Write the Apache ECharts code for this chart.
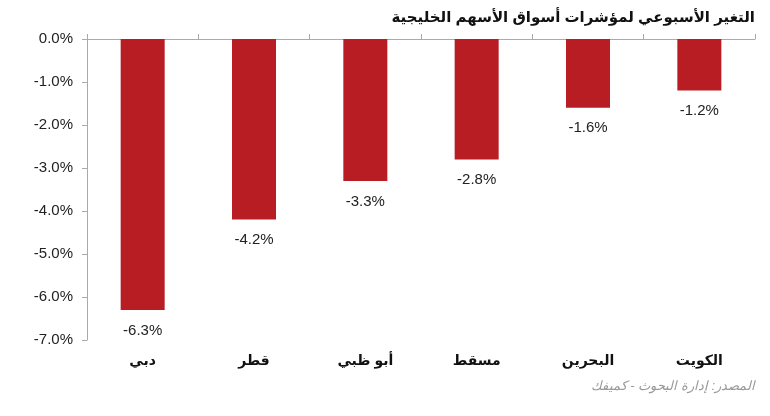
<!DOCTYPE html>
<html>
<head>
<meta charset="utf-8">
<script src="https://cdn.jsdelivr.net/npm/echarts@6/dist/echarts.min.js"></script>
<style>
  html, body { margin: 0; padding: 0; background: #fff; }
  #chart { width: 770px; height: 416px; }
</style>
</head>
<body>
<div id="chart"></div>
<script>
// بيانات الرسم
var markets = ['دبي', 'قطر', 'أبو ظبي', 'مسقط', 'البحرين', 'الكويت'];
var weeklyChange = [-6.3, -4.2, -3.3, -2.8, -1.6, -1.2];
var yTicks = [0, -1, -2, -3, -4, -5, -6, -7];

var titleText = 'التغير الأسبوعي لمؤشرات أسواق الأسهم الخليجية';
var sourceText = 'المصدر: إدارة البحوث - كميفك';

var font = '"Liberation Sans", "DejaVu Sans", Arial, sans-serif';

var chart = echarts.init(document.getElementById('chart'));

chart.setOption({
  backgroundColor: '#fff',
  animation: false,
  title: [{
    text: titleText,
    right: 10,
    top: 5,
    textStyle: { fontFamily: font, fontSize: 15, fontWeight: 'bold', color: '#111' }
  }, {
    text: sourceText,
    right: 10,
    top: 375,
    textStyle: { fontFamily: font, fontSize: 13, fontWeight: 'normal', fontStyle: 'italic', color: '#999' }
  }],
  grid: { left: 87, right: 15, top: 39, bottom: 76 },
  xAxis: [{
    // خط المحور في الأعلى
    type: 'category',
    data: markets,
    position: 'top',
    axisLine: { show: true, lineStyle: { color: '#aaa', width: 1 } },
    axisTick: { show: true, length: 5, lineStyle: { color: '#aaa' } },
    axisLabel: { show: false }
  }, {
    // أسماء الأسواق في الأسفل
    type: 'category',
    data: markets,
    position: 'bottom',
    axisLine: { show: false },
    axisTick: { show: false },
    axisLabel: { margin: 14, fontFamily: font, fontSize: 14, fontWeight: 'bold', color: '#111' }
  }],
  yAxis: {
    type: 'value',
    min: -7,
    max: 0,
    interval: 1,
    axisLine: { show: true, lineStyle: { color: '#aaa', width: 1 } },
    axisTick: { show: true, length: 5, lineStyle: { color: '#aaa' } },
    splitLine: { show: false },
    axisLabel: {
      margin: 14,
      fontFamily: font,
      fontSize: 15,
      color: '#222',
      formatter: function (v) { return v.toFixed(1) + '%'; }
    }
  },
  series: [{
    type: 'bar',
    xAxisIndex: 0,
    data: weeklyChange,
    barWidth: 44,
    itemStyle: { color: '#b81d24' },
    label: {
      show: true,
      position: 'bottom',
      distance: 13,
      fontFamily: font,
      fontSize: 15,
      color: '#222',
      formatter: function (p) { return p.value.toFixed(1) + '%'; }
    }
  }]
});
</script>
</body>
</html>
